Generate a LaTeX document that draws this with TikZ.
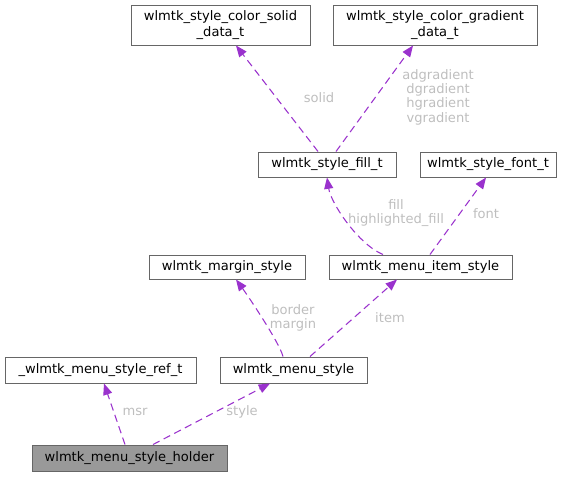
\documentclass[tikz,border=0pt]{standalone}
\usepackage{fontspec}
\setmainfont{DejaVu Sans}
\usetikzlibrary{arrows.meta,calc}
\definecolor{edgec}{RGB}{154,50,205}
\definecolor{labc}{RGB}{190,190,190}
\definecolor{boxc}{RGB}{102,102,102}
\definecolor{holdc}{RGB}{153,153,153}
\tikzset{
  cls/.style 2 args={draw=boxc, line width=0.75pt, fill=white, inner sep=0pt, align=center,
    minimum width=#1*0.75pt, minimum height=#2*0.75pt, font=\fontsize{9.8}{12}\selectfont},
  rel/.style={draw=edgec, line width=0.8pt, dash pattern=on 5.5pt off 3.5pt,
    -{Triangle[length=8.5pt,width=6.8pt]}},
  lab/.style={text=labc, align=center, inner sep=0pt, font=\fontsize{9.8}{10.8}\selectfont}
}
\begin{document}
\begin{tikzpicture}[x=0.75pt,y=-0.75pt]
\useasboundingbox (0,0) rectangle (573,476);
\node[cls={179}{40}] (solid) at (220.5,25) {wlmtk\_style\_color\_solid\\\_data\_t};
\node[cls={204}{40}] (grad) at (435,25) {wlmtk\_style\_color\_gradient\\\_data\_t};
\node[cls={138}{25}] (fill) at (327,164.5) {wlmtk\_style\_fill\_t};
\node[cls={136}{25}] (font) at (488,164.5) {wlmtk\_style\_font\_t};
\node[cls={156}{24}] (margin) at (227,267) {wlmtk\_margin\_style};
\node[cls={183}{24}] (item) at (420.5,267) {wlmtk\_menu\_item\_style};
\node[cls={191}{26}] (ref) at (100.5,370) {\_wlmtk\_menu\_style\_ref\_t};
\node[cls={147}{26}] (ms) at (293.5,370) {wlmtk\_menu\_style};
\node[cls={195}{26}, fill=holdc] (holder) at (129.5,458) {wlmtk\_menu\_style\_holder};

% holder edges
\draw[rel] ($(holder.north)+(-4.5,0)$) -- ($(ref.south)+(3.5,0)$);
\draw[rel] ($(holder.north)+(23.5,0)$) -- ($(ms.south)+(-23.5,0)$);
\node[lab] (lmsr) at (135,412) {msr};
\node[lab] (lstyle) at (242,412) {style};

% menu_style edges
\draw[rel] ($(ms.north)+(-10.5,0)$) .. controls ($(ms.north)+(-14,-14)$) and ($(margin.south)+(20,15)$) .. ($(margin.south)+(9,0)$);
\draw[rel] ($(ms.north)+(16.5,0)$) -- ($(item.south)+(-23.5,0)$);
\node[lab] (lbm) at (293,318) {border\\margin};
\node[lab] (litem) at (390,318) {item};

% menu_item_style edges
\draw[rel] ($(item.north)+(-37.5,0)$) .. controls ($(item.north)+(-62,-10)$) and ($(fill.south)+(4,26)$) .. (fill.south);
\draw[rel] ($(item.north)+(9.5,0)$) -- ($(font.south)+(-2,0)$);
\node[lab] (lfill) at (396,213) {fill\\highlighted\_fill};
\node[lab] (lfont) at (486,214) {font};

% fill edges
\draw[rel] ($(fill.north)+(-9,0)$) -- ($(solid.south)+(15.5,0)$);
\draw[rel] ($(fill.north)+(9,0)$) -- ($(grad.south)+(-22,0)$);
\node[lab] (lsolid) at (319,98) {solid};
\node[lab] (lgrad) at (438,97) {adgradient\\dgradient\\hgradient\\vgradient};
\end{tikzpicture}
\end{document}
